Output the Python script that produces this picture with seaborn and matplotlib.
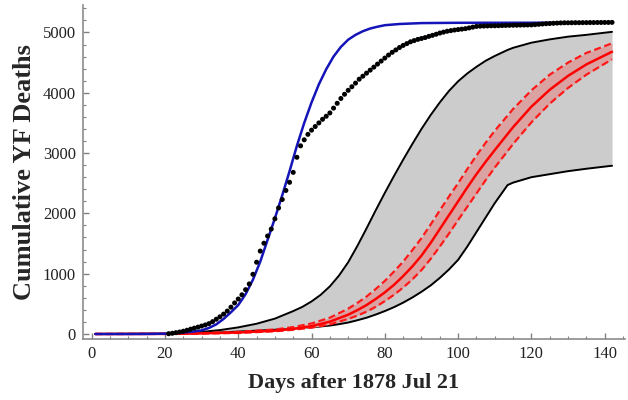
import numpy as np
import pandas as pd
import seaborn as sb
from matplotlib import pyplot as plt
from matplotlib.ticker import MultipleLocator

# observed cumulative deaths (dots), one per day
obs_days = list(range(21, 143))
obs_deaths = [5, 12, 22, 33, 46, 62, 80, 97, 114, 132,
              150, 172, 205, 245, 285, 330, 380, 445, 515, 580,
              650, 735, 830, 990, 1190, 1375, 1505, 1625, 1740, 1910,
              2090, 2230, 2380, 2515, 2680, 2930, 3120, 3220, 3310, 3380,
              3440, 3500, 3560, 3610, 3665, 3745, 3825, 3905, 3975, 4040,
              4100, 4160, 4225, 4275, 4325, 4375, 4425, 4475, 4525, 4575,
              4625, 4670, 4710, 4750, 4785, 4815, 4845, 4865, 4885, 4900,
              4915, 4935, 4952, 4970, 4990, 5005, 5020, 5030, 5040, 5048,
              5055, 5063, 5075, 5088, 5100, 5104, 5106, 5108, 5110, 5110,
              5112, 5114, 5116, 5118, 5120, 5120, 5122, 5123, 5124, 5125,
              5130, 5135, 5140, 5145, 5148, 5152, 5155, 5158, 5160, 5160,
              5161, 5162, 5162, 5163, 5163, 5164, 5164, 5165, 5165, 5166,
              5166, 5167]

# fitted model (blue)
fit_days = [1, 10, 15, 20, 22, 24, 26, 28, 30, 32, 34, 36, 38, 40, 42, 44, 46, 48,
            50, 52, 54, 56, 58, 60, 62, 64, 66, 68, 70, 72, 74, 76, 78, 80, 84,
            90, 100, 142]
fit_deaths = [0, 0, 1, 5, 12, 20, 30, 42, 60, 100, 160, 250, 360, 480, 660, 900, 1200, 1560,
              1920, 2300, 2700, 3120, 3500, 3840, 4140, 4390, 4600, 4760, 4880, 4960, 5020, 5065, 5095, 5120, 5140,
              5155, 5160, 5162]

# prediction envelope (grey band)
env_days = [1, 20, 25, 30, 35, 40, 45, 50, 55, 57.5, 60, 62.5, 65, 67.5, 70, 72.5, 75, 77.5,
            80, 82.5, 85, 87.5, 90, 92.5, 95, 97.5, 100, 102.5, 105, 107.5, 110, 113.5,
            115, 120, 125, 130, 135, 142]
env_upper = [0, 5, 15, 35, 65, 110, 170, 255, 380, 450, 540, 650, 790, 970, 1190, 1460, 1750, 2050,
             2340, 2620, 2890, 3150, 3400, 3630, 3840, 4030, 4190, 4320, 4430, 4530, 4610, 4710,
             4745, 4830, 4885, 4930, 4960, 5010]
env_lower = [0, 3, 8, 15, 25, 40, 55, 70, 88, 98, 110, 125, 140, 163, 190, 228, 270, 322,
             380, 445, 520, 605, 700, 805, 930, 1070, 1230, 1450, 1690, 1930, 2170, 2470,
             2510, 2600, 2650, 2700, 2740, 2790]

# median prediction and its interval (red)
med_days = [1, 20, 30, 40, 50, 55, 60, 65, 70, 72.5, 75, 77.5, 80, 82.5, 85, 87.5, 90,
            92.5, 95, 97.5, 100, 102.5, 105, 107.5, 110, 115, 120, 125, 130, 135, 142]
med_mid = [0, 2, 10, 25, 55, 85, 130, 205, 320, 395, 480, 580, 690, 815, 960, 1120, 1300,
           1510, 1740, 1970, 2200, 2430, 2650, 2855, 3050, 3430, 3770, 4050, 4280, 4470, 4680]
med_hi = [0, 3, 14, 35, 75, 115, 175, 270, 420, 515, 620, 745, 880, 1035, 1200, 1390, 1590,
          1815, 2050, 2280, 2500, 2735, 2960, 3170, 3370, 3730, 4040, 4300, 4500, 4660, 4820]
med_lo = [0, 1, 7, 17, 45, 70, 105, 160, 250, 305, 370, 450, 545, 650, 770, 905, 1060,
          1245, 1450, 1665, 1890, 2110, 2330, 2550, 2760, 3150, 3510, 3820, 4080, 4300, 4555]

sb.set_style('ticks')
plt.rcParams['font.family'] = ['Liberation Serif', 'DejaVu Serif']

fig = plt.figure(figsize=(6.28, 4.0), dpi=100)
ax = fig.add_axes([0.132, 0.1525, 0.863, 0.835])

ax.fill_between(env_days, env_lower, env_upper, color='#cccccc', lw=0, zorder=1)
sb.lineplot(x=env_days, y=env_upper, ax=ax, color='black', lw=1.4, zorder=2)
sb.lineplot(x=env_days, y=env_lower, ax=ax, color='black', lw=1.4, zorder=2)

ax.fill_between(med_days, med_lo, med_hi, color='#dba2a2', lw=0, zorder=3)
sb.lineplot(x=med_days, y=med_hi, ax=ax, color='#ff1a1a', lw=1.6, linestyle=(0, (3.2, 1.6)), zorder=4)
sb.lineplot(x=med_days, y=med_lo, ax=ax, color='#ff1a1a', lw=1.6, linestyle=(0, (3.2, 1.6)), zorder=4)
sb.lineplot(x=med_days, y=med_mid, ax=ax, color='#ff0000', lw=1.8, zorder=5)

sb.lineplot(x=fit_days, y=fit_deaths, ax=ax, color='#1414b8', lw=1.8, zorder=6)
sb.scatterplot(x=obs_days, y=obs_deaths, ax=ax, color='black', s=13, edgecolor='none', zorder=7)

ax.set_xlim(-2.4, 145.5)
ax.set_ylim(-83, 5455)
ax.xaxis.set_major_locator(MultipleLocator(20))
ax.xaxis.set_minor_locator(MultipleLocator(5))
ax.yaxis.set_major_locator(MultipleLocator(1000))
ax.yaxis.set_minor_locator(MultipleLocator(200))
ax.tick_params(which='major', direction='in', length=4, width=1, color='#808080',
               labelsize=12, labelcolor='#222222', pad=5)
ax.tick_params(which='minor', direction='in', length=2.2, width=0.8, color='#808080')

for side in ['top', 'right']:
    ax.spines[side].set_visible(False)
for side in ['left', 'bottom']:
    ax.spines[side].set_color('#8c8c8c')
    ax.spines[side].set_linewidth(1.2)

ax.set_xlabel('Days after 1878 Jul 21', fontsize=16, fontweight='bold', labelpad=8)
ax.set_ylabel('Cumulative YF Deaths', fontsize=19, fontweight='bold', labelpad=5)

plt.savefig('out.png', format='png', dpi=100)
plt.close()
